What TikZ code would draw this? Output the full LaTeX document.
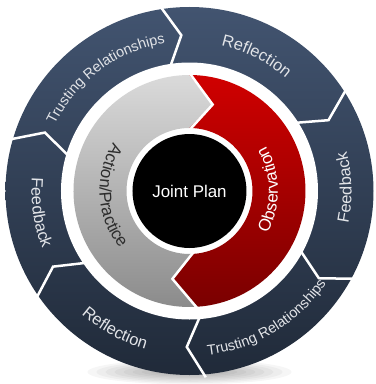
\documentclass[tikz,border=0pt]{standalone}
\usepackage{fontspec}
\setmainfont{Liberation Sans}
\usetikzlibrary{decorations.text}
\definecolor{navytop}{RGB}{66,84,112}
\definecolor{navybot}{RGB}{32,42,57}
\definecolor{graytop}{RGB}{218,218,218}
\definecolor{graybot}{RGB}{138,138,138}
\definecolor{redtop}{RGB}{208,0,0}
\definecolor{redbot}{RGB}{122,0,0}
\definecolor{ringtxt}{RGB}{226,228,232}
\definecolor{darktxt}{RGB}{45,45,45}
\newcommand\cwtext[4]{\path[decorate,decoration={text along path,text align=center,text={#4}}] ({#1+#2}:#3) arc[start angle={#1+#2}, end angle={#1-#2}, radius=#3];}
\newcommand\ccwtext[4]{\path[decorate,decoration={text along path,text align=center,text={#4}}] ({#1-#2}:#3) arc[start angle={#1-#2}, end angle={#1+#2}, radius=#3];}
\newcommand\fsz[1]{\fontsize{#1}{#1}\selectfont}
\tikzset{
  sepline/.style={white, line width=2.5bp, line join=miter},
  jpnode/.style={circle, fill=black, minimum size=114bp, inner sep=0pt, text=white, font=\fsz{17}}
}
\begin{document}
\begin{tikzpicture}[x=1bp,y=1bp]
\fill[white] (-189.5,-193) rectangle (186.5,191);
\useasboundingbox (-189.5,-193) rectangle (186.5,191);
% soft shadow
\foreach \s in {1,...,8}
  \fill[black,opacity=0.035] (0,-181bp) ellipse[x radius={(30+9*\s)*1bp}, y radius={(2+1.3*\s)*1bp}];
% outer ring
\shade[top color=navytop, bottom color=navybot] (0,0) circle[radius=184bp];
\fill[white] (0,0) circle[radius=128.5bp];
\foreach \b in {164,99,33,-28,-85,-145}
  \draw[sepline] (\b:187bp) -- ({\b-6}:156bp) -- (\b:125bp);
% middle ring
\shade[top color=graytop, bottom color=graybot]
  (274:116bp) arc[start angle=274, end angle=90, radius=116bp] -- (75:89.5bp) -- (90:63bp)
  arc[start angle=90, end angle=274, radius=63bp] -- (259:89.5bp) -- cycle;
\shade[top color=redtop, bottom color=redbot]
  (90:116bp) arc[start angle=90, end angle=-86, radius=116bp] -- (-101:89.5bp) -- (-86:63bp)
  arc[start angle=-86, end angle=90, radius=63bp] -- (75:89.5bp) -- cycle;
\draw[sepline] (90:118bp) -- (75:89.5bp) -- (90:61bp);
\draw[sepline] (-86:118bp) -- (-101:89.5bp) -- (-86:61bp);
% center
\node[jpnode] (jp) at (0,0) {Joint Plan};
% outer texts
\cwtext{126.6}{42}{150bp}{|\fsz{14.5}\color{ringtxt}|Trusting Relationships}
\cwtext{63.6}{35}{148.5bp}{|\fsz{16.5}\color{ringtxt}|Reflection}
\ccwtext{1.3}{35}{162bp}{|\fsz{16.5}\color{ringtxt}|Feedback}
\ccwtext{-58.8}{42}{165bp}{|\fsz{14.5}\color{ringtxt}|Trusting Relationships}
\ccwtext{-118.4}{35}{164bp}{|\fsz{16.5}\color{ringtxt}|Reflection}
\ccwtext{188.3}{35}{158bp}{|\fsz{16.5}\color{ringtxt}|Feedback}
% middle texts
\ccwtext{183.7}{55}{90bp}{|\fsz{17}\color{darktxt}|Action/Practice}
\ccwtext{1.2}{55}{88.5bp}{|\fsz{17}\color{white}|Observation}
\end{tikzpicture}
\end{document}
